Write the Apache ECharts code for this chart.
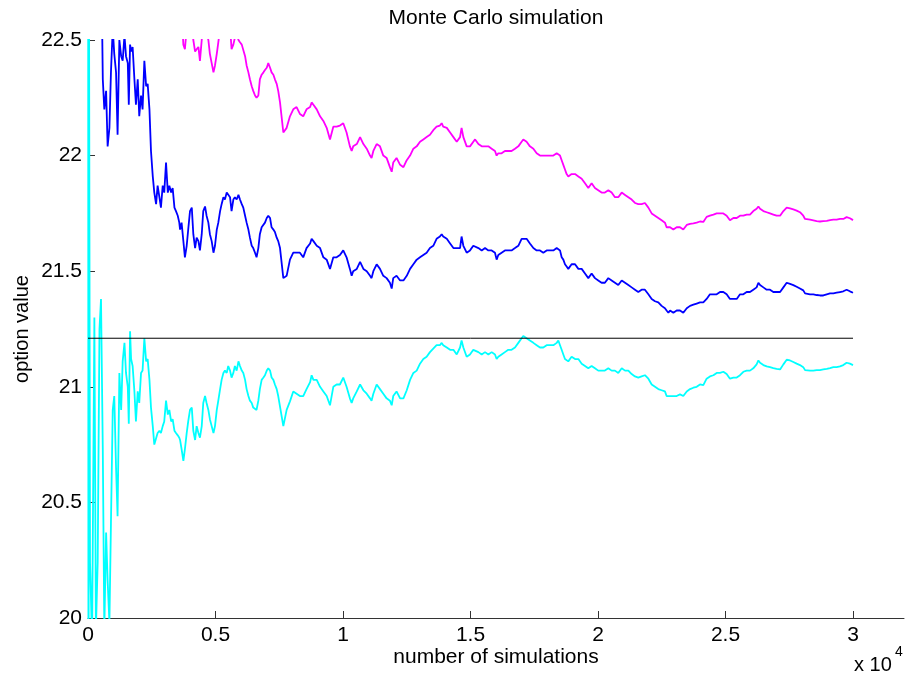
<!DOCTYPE html>
<html><head><meta charset="utf-8">
<script src="https://cdn.jsdelivr.net/npm/echarts@6/dist/echarts.min.js"></script>
<style>html,body{margin:0;padding:0;background:#fff}#c{width:905px;height:677px}</style>
</head><body><div id="c"></div>
<script>
// number of simulations (x)
const sims = [
5,20,40,80,160,250,310,380,450,510,580,640,710,770,840,900,970,1030,1100,1160,1230,1300,1360,1430,1490,1560,1600,1650,1690,1750,1820,1880,1950,2010,2080,2140,2210,2280,2340,2410,2470,2540,2600,2670,2730,2800,2860,2930,2990,3060,3130,3190,3260,3320,3390,3450,3520,3580,
3610,3670,3740,3800,3870,3930,4000,4070,4130,4200,4260,4330,4390,4460,4520,4590,4650,4720,4780,4850,4920,4980,5050,5110,5180,5240,5310,5370,5440,5500,5570,5630,5700,5760,5830,5900,5960,6030,6090,6160,6220,6290,6350,6420,6480,6550,6610,6680,6740,6810,6880,6940,7010,7070,7140,7200,7270,7330,7400,7460,
7530,7660,7790,7920,8050,8180,8310,8440,8570,8710,8770,8840,8970,9100,9230,9360,9490,9620,9750,9880,10010,10140,10270,10340,10400,10540,10670,10800,10930,11060,11120,11190,11320,11450,11580,11710,11840,11910,11970,12100,12240,12370,12500,12630,12760,12890,13020,13150,13280,13410,13540,13670,13800,13870,13930,14070,14200,14330,14460,14590,14650,14720,14850,14980,15110,
15180,15310,15440,15570,15700,15830,15960,16025,16090,16220,16350,16480,16610,16745,16875,17005,17070,17200,17330,17465,17595,17725,17855,17985,18115,18250,18380,18445,18510,18575,18640,18705,18770,18835,18900,18965,19100,19230,19360,19490,19620,19750,19880,20010,20140,20270,20405,20535,20665,20795,20930,21060,21190,21320,21450,21580,21710,21840,21910,21975,22105,22235,22365,22495,22625,22690,22760,
22825,22955,23085,23215,23345,23480,23610,23740,23870,24000,24130,24260,24390,24525,24655,24785,24915,25045,25175,25310,25440,25570,25700,25830,25960,26090,26220,26290,26355,26485,26615,26745,26875,27005,27140,27270,27400,27530,27660,27790,27920,28050,28120,28185,28315,28445,28575,28705,28835,28970,29100,29230,29360,29490,29620,29750,29880,30000
];
// running Monte Carlo estimate (blue)
const meanEstimate = [
25.0,24.1,23.4,23.3,23.0,23.3,22.9,22.8,23.0,22.95,22.33,22.20,22.28,22.04,22.12,22.36,22.55,22.44,22.36,22.09,22.50,22.43,22.41,22.52,22.43,22.40,22.22,22.48,22.45,22.47,22.33,22.22,22.33,22.17,22.26,22.20,22.41,22.30,22.31,22.20,22.02,21.91,21.84,21.79,21.87,21.82,21.775,21.87,21.84,21.97,21.84,21.87,21.84,21.86,21.775,21.76,21.74,21.71,
21.68,21.71,21.63,21.56,21.61,21.68,21.76,21.775,21.66,21.60,21.645,21.63,21.59,21.66,21.76,21.78,21.74,21.71,21.66,21.63,21.58,21.61,21.68,21.71,21.76,21.79,21.82,21.81,21.84,21.84,21.82,21.76,21.81,21.82,21.81,21.83,21.81,21.79,21.775,21.74,21.71,21.68,21.645,21.61,21.60,21.58,21.56,21.60,21.66,21.69,21.69,21.71,21.73,21.74,21.73,21.69,21.68,21.67,21.645,21.63,
21.60,21.47,21.48,21.55,21.58,21.58,21.58,21.56,21.60,21.62,21.64,21.63,21.61,21.60,21.56,21.55,21.51,21.56,21.56,21.57,21.59,21.56,21.51,21.48,21.50,21.51,21.54,21.51,21.50,21.48,21.47,21.50,21.53,21.51,21.48,21.47,21.45,21.425,21.47,21.48,21.46,21.46,21.48,21.51,21.53,21.55,21.56,21.57,21.58,21.60,21.61,21.64,21.65,21.66,21.65,21.64,21.62,21.60,21.60,21.60,21.65,21.61,21.58,21.59,21.61,
21.61,21.60,21.59,21.60,21.59,21.59,21.58,21.55,21.57,21.58,21.59,21.59,21.59,21.60,21.61,21.64,21.645,21.64,21.62,21.60,21.59,21.59,21.58,21.59,21.59,21.59,21.60,21.60,21.59,21.56,21.55,21.53,21.52,21.51,21.51,21.53,21.53,21.51,21.51,21.49,21.47,21.49,21.47,21.46,21.45,21.45,21.47,21.46,21.45,21.44,21.46,21.45,21.44,21.43,21.42,21.41,21.42,21.42,21.425,21.40,21.38,21.37,21.365,21.35,21.34,21.33,21.32,
21.33,21.32,21.33,21.33,21.32,21.34,21.35,21.355,21.36,21.365,21.365,21.38,21.40,21.40,21.40,21.41,21.41,21.40,21.38,21.38,21.38,21.40,21.40,21.41,21.41,21.42,21.43,21.45,21.44,21.43,21.42,21.42,21.41,21.41,21.41,21.43,21.45,21.445,21.44,21.433,21.425,21.417,21.404,21.397,21.40,21.40,21.397,21.395,21.395,21.40,21.404,21.404,21.407,21.41,21.413,21.42,21.413,21.407
];
// upper confidence bound (magenta)
const upperBound = [
26.8,29.2,24.1,26.4,26.1,25.3,25.9,25.4,24.8,24.5,23.9,24.4,24.2,23.9,24.3,24.3,24.2,23.9,24.1,23.7,23.9,24.0,23.7,23.9,23.8,23.8,23.6,23.72,23.78,23.85,23.68,23.59,23.68,23.41,23.46,23.33,23.61,23.49,23.50,23.37,23.13,22.99,22.93,22.83,22.94,22.83,22.75,22.91,22.83,23.00,22.80,22.84,22.83,22.86,22.74,22.72,22.69,22.64,
22.60,22.62,22.48,22.46,22.55,22.60,22.65,22.65,22.50,22.45,22.46,22.47,22.41,22.50,22.58,22.60,22.53,22.50,22.44,22.40,22.36,22.39,22.44,22.49,22.55,22.58,22.60,22.59,22.61,22.62,22.56,22.46,22.48,22.51,22.53,22.50,22.49,22.48,22.475,22.43,22.39,22.36,22.33,22.30,22.28,22.26,22.25,22.26,22.33,22.35,22.36,22.37,22.38,22.40,22.38,22.36,22.35,22.33,22.31,22.28,
22.23,22.10,22.12,22.17,22.20,22.21,22.18,22.17,22.20,22.21,22.23,22.22,22.20,22.17,22.15,22.12,22.07,22.125,22.125,22.13,22.14,22.10,22.04,22.02,22.04,22.05,22.08,22.05,22.03,22.00,21.99,22.02,22.05,22.04,22.00,21.99,21.95,21.93,21.97,21.99,21.96,21.95,21.98,22.00,22.03,22.04,22.06,22.07,22.08,22.09,22.11,22.125,22.13,22.14,22.125,22.12,22.10,22.08,22.06,22.08,22.12,22.08,22.04,22.04,22.06,
22.07,22.05,22.04,22.04,22.04,22.03,22.02,22.00,22.01,22.01,22.02,22.02,22.02,22.03,22.04,22.06,22.07,22.06,22.04,22.03,22.01,22.00,22.00,22.00,22.00,22.00,22.01,22.01,22.00,21.98,21.96,21.94,21.92,21.91,21.91,21.92,21.92,21.91,21.90,21.88,21.86,21.88,21.86,21.85,21.84,21.84,21.85,21.84,21.82,21.82,21.84,21.83,21.82,21.81,21.795,21.79,21.79,21.795,21.80,21.775,21.75,21.74,21.73,21.72,21.71,21.69,21.69,
21.69,21.68,21.69,21.69,21.68,21.70,21.705,21.707,21.71,21.715,21.713,21.735,21.74,21.745,21.75,21.75,21.75,21.74,21.72,21.73,21.73,21.74,21.74,21.745,21.745,21.76,21.77,21.78,21.77,21.76,21.755,21.75,21.745,21.74,21.74,21.76,21.775,21.772,21.767,21.762,21.755,21.74,21.726,21.721,21.723,21.72,21.717,21.715,21.717,21.718,21.721,21.723,21.723,21.726,21.726,21.734,21.729,21.721
];
// lower confidence bound (cyan)
const lowerBound = [
23.2,19.0,22.7,20.24,19.9,21.30,19.95,20.24,21.25,21.38,20.73,19.95,20.37,20.16,19.98,20.41,20.90,20.96,20.65,20.44,21.06,20.90,21.11,21.19,21.06,21.00,20.84,21.24,21.12,21.09,20.98,20.85,20.98,20.93,21.06,21.07,21.21,21.11,21.12,21.03,20.91,20.83,20.75,20.75,20.80,20.81,20.80,20.83,20.85,20.94,20.88,20.90,20.85,20.86,20.81,20.80,20.79,20.78,
20.77,20.73,20.68,20.73,20.80,20.85,20.90,20.91,20.81,20.77,20.83,20.80,20.78,20.83,20.93,20.96,20.93,20.90,20.86,20.83,20.80,20.83,20.90,20.94,20.99,21.03,21.06,21.07,21.06,21.09,21.07,21.04,21.06,21.09,21.07,21.11,21.09,21.07,21.06,21.03,20.99,20.96,20.94,20.93,20.91,20.91,20.90,20.94,20.99,21.03,21.04,21.05,21.07,21.08,21.07,21.04,21.03,21.01,20.99,20.96,
20.96,20.83,20.90,20.937,20.98,20.97,20.96,20.96,20.99,21.02,21.05,21.03,21.03,21.00,20.98,20.96,20.92,21.00,21.01,21.01,21.04,21.00,20.95,20.93,20.95,20.98,21.01,20.985,20.97,20.95,20.94,20.97,21.01,20.99,20.97,20.95,20.94,20.92,20.96,20.98,20.95,20.95,20.985,21.03,21.06,21.07,21.10,21.12,21.13,21.15,21.165,21.18,21.18,21.19,21.18,21.17,21.16,21.16,21.14,21.17,21.20,21.17,21.13,21.14,21.16,
21.16,21.15,21.14,21.15,21.14,21.15,21.14,21.12,21.13,21.14,21.15,21.16,21.16,21.17,21.19,21.21,21.22,21.21,21.20,21.19,21.18,21.17,21.17,21.18,21.18,21.18,21.19,21.20,21.18,21.16,21.14,21.12,21.12,21.11,21.12,21.13,21.12,21.12,21.10,21.09,21.08,21.09,21.08,21.07,21.07,21.07,21.08,21.07,21.07,21.06,21.08,21.07,21.07,21.055,21.045,21.04,21.045,21.05,21.055,21.035,21.01,21.00,20.99,20.985,20.98,20.96,20.96,
20.96,20.96,20.96,20.967,20.96,20.98,20.99,20.996,21.00,21.01,21.007,21.035,21.045,21.05,21.06,21.06,21.065,21.055,21.035,21.04,21.04,21.05,21.065,21.07,21.07,21.08,21.097,21.114,21.104,21.094,21.088,21.085,21.081,21.078,21.075,21.097,21.117,21.114,21.107,21.10,21.094,21.085,21.072,21.065,21.07,21.07,21.072,21.072,21.075,21.078,21.081,21.085,21.085,21.088,21.094,21.104,21.10,21.094
];
// exact (Black-Scholes) value, black horizontal line
const exactValue = 21.21;
const exactRange = [0, 30000];
const xTickValues = [0,5000,10000,15000,20000,25000,30000];
const xTickLabels = ['0','0.5','1','1.5','2','2.5','3'];
const yTickValues = [20,20.5,21,21.5,22,22.5];
const yTickLabels = ['20','20.5','21','21.5','22','22.5'];
const titleText = 'Monte Carlo simulation';
const xLabel = 'number of simulations';
const yLabel = 'option value';
const xScaleText = 'x 10';
const xScaleExp = '4';

const FONT = '"Liberation Sans", Arial, Helvetica, sans-serif';
const zip = (xs, ys) => xs.map((x, i) => [x, ys[i]]);

const chart = echarts.init(document.getElementById('c'), null, {renderer: 'canvas'});
chart.setOption({
  animation: false,
  backgroundColor: '#fff',
  grid: {left: 88, right: 1, top: 40, bottom: 59, containLabel: false},
  xAxis: {
    type: 'value', min: 0, max: 32000,
    axisLine: {show: true, lineStyle: {color: '#333', width: 1}},
    axisTick: {show: true, inside: true, length: 7, customValues: xTickValues, lineStyle: {color: '#333'}},
    axisLabel: {show: true, customValues: xTickValues, margin: 7, fontSize: 21, fontFamily: FONT, color: '#000',
      formatter: v => { const i = xTickValues.indexOf(v); return i >= 0 ? xTickLabels[i] : ''; }},
    splitLine: {show: false}
  },
  yAxis: {
    type: 'value', min: 20, max: 22.5,
    axisLine: {show: true, lineStyle: {color: '#333', width: 1}},
    axisTick: {show: true, inside: true, length: 7, customValues: yTickValues, lineStyle: {color: '#333'}},
    axisLabel: {show: true, customValues: yTickValues, margin: 6, fontSize: 21, fontFamily: FONT, color: '#000',
      formatter: v => { const i = yTickValues.indexOf(v); return i >= 0 ? yTickLabels[i] : ''; }},
    splitLine: {show: false}
  },
  graphic: [
    {type: 'text', x: 496, y: 18, style: {text: titleText, font: '21px ' + FONT, fill: '#000', align: 'center', verticalAlign: 'middle'}},
    {type: 'text', x: 496, y: 657, style: {text: xLabel, font: '21px ' + FONT, fill: '#000', align: 'center', verticalAlign: 'middle'}},
    {type: 'text', x: 22, y: 329, rotation: Math.PI / 2, style: {text: yLabel, font: '20px ' + FONT, fill: '#000', align: 'center', verticalAlign: 'middle'}},
    {type: 'text', x: 854, y: 665, style: {text: xScaleText, font: '20px ' + FONT, fill: '#000', align: 'left', verticalAlign: 'middle'}},
    {type: 'text', x: 895, y: 652, style: {text: xScaleExp, font: '14px ' + FONT, fill: '#000', align: 'left', verticalAlign: 'middle'}}
  ],
  series: [
    {type: 'line', name: 'upper', data: zip(sims, upperBound), showSymbol: false, clip: true,
     lineStyle: {color: '#ff00ff', width: 1.8}, itemStyle: {color: '#ff00ff'}},
    {type: 'line', name: 'estimate', data: zip(sims, meanEstimate), showSymbol: false, clip: true,
     lineStyle: {color: '#0000ff', width: 1.8}, itemStyle: {color: '#0000ff'}},
    {type: 'line', name: 'lower', data: zip(sims, lowerBound), showSymbol: false, clip: true,
     lineStyle: {color: '#00ffff', width: 1.8}, itemStyle: {color: '#00ffff'}},
    {type: 'line', name: 'exact', data: exactRange.map(x => [x, exactValue]), showSymbol: false, clip: true,
     lineStyle: {color: '#000', width: 1}, itemStyle: {color: '#000'}}
  ]
});
</script>
</body></html>
